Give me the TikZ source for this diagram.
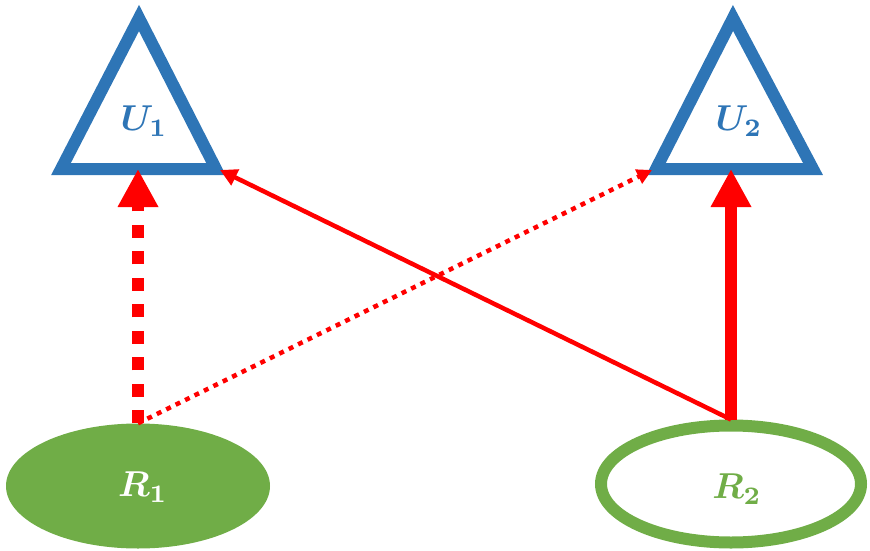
\documentclass[tikz,border=0pt]{standalone}
\usetikzlibrary{arrows.meta,shapes.geometric}
\definecolor{tblue}{HTML}{2E75B6}
\definecolor{rgreen}{HTML}{70AD47}
\definecolor{ared}{HTML}{FF0000}
\begin{document}
\begin{tikzpicture}[x=1pt,y=-1pt,
  tri/.style={draw=tblue,line width=12pt,line join=miter},
  lbl/.style={font=\boldmath,scale=3.6},
  bigarrow/.style={draw=ared,line width=12.5pt,-{Triangle[length=38pt,width=38pt]}},
  thinarrow/.style={draw=ared,line width=4.5pt,-{Triangle[length=17pt,width=17pt]}},
  dotarrow/.style={draw=ared,line width=4.5pt,dash pattern=on 5pt off 5.5pt,-{Triangle[length=15pt,width=15pt]}}
]
\useasboundingbox (0,0) rectangle (870,551);
% triangles
\coordinate (a1) at (139,18);
\coordinate (l1) at (61,169);
\coordinate (r1) at (216,169);
\coordinate (b1) at (138,169);
\coordinate (c1) at (220,170);
\draw[tri] (a1) -- (l1) -- (r1) -- cycle;
\node[lbl,text=tblue] (U1) at (144,121) {$U_1$};
\coordinate (a2) at (733,18);
\coordinate (l2) at (656,169);
\coordinate (r2) at (813,169);
\coordinate (b2) at (731,169);
\coordinate (c2) at (652,170);
\draw[tri] (a2) -- (l2) -- (r2) -- cycle;
\node[lbl,text=tblue] (U2) at (739,121) {$U_2$};
% ellipses
\node[ellipse,fill=rgreen,minimum width=264pt,minimum height=125pt,inner sep=0pt] (R1) at (138,486) {};
\node[lbl,text=white] (R1t) at (143,487) {$R_1$};
\node[ellipse,draw=rgreen,line width=12pt,minimum width=260pt,minimum height=117pt,inner sep=0pt] (R2) at (731,484) {};
\node[lbl,text=rgreen] (R2t) at (737,489) {$R_2$};
% arrows
\draw[bigarrow,dash pattern=on 13pt off 13.5pt] (R1.north) -- (b1);
\draw[dotarrow] (R1.north) -- (c2);
\draw[thinarrow] (R2.north) -- (c1);
\draw[bigarrow] (R2.north) -- (b2);
\end{tikzpicture}
\end{document}
